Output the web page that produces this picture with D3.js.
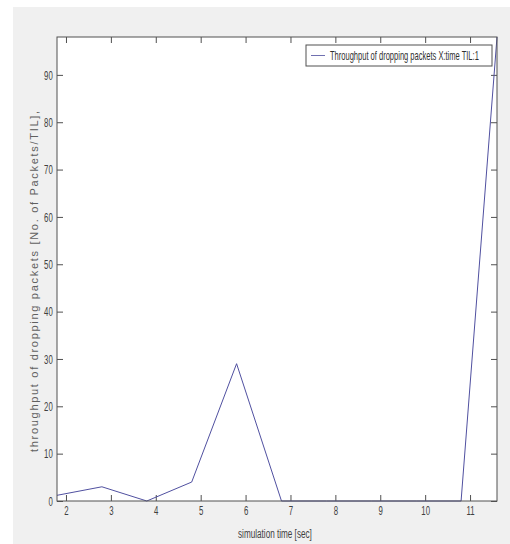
<!DOCTYPE html>
<html>
<head>
<meta charset="utf-8">
<script src="https://cdn.jsdelivr.net/npm/d3@7"></script>
<style>
  body { margin: 0; background: #ffffff; }
  svg text { font-family: "Liberation Sans", Arial, sans-serif; }
</style>
</head>
<body>
<script>
// simulation time [sec]
var times = [1.8, 2.8, 3.8, 4.8, 5.8, 6.8, 7.8, 8.8, 9.8, 10.8, 11.6];
// throughput of dropping packets
var drops = [1.2, 3, 0, 4, 29, 0, 0, 0, 0, 0, 98];
var xTicks = [2, 3, 4, 5, 6, 7, 8, 9, 10, 11];
var yTicks = [0, 10, 20, 30, 40, 50, 60, 70, 80, 90];
var legendLabel = "Throughput of dropping packets X:time TIL:1";

var width = 510, height = 544;
var margin = { top: 37, right: 13, bottom: 40, left: 57 };

var svg = d3.select("body").append("svg")
  .attr("width", width)
  .attr("height", height);

// grey figure background
svg.append("rect")
  .attr("x", 13).attr("y", 7)
  .attr("width", width - 13).attr("height", height - 7)
  .attr("fill", "#f0f0f0");

var w = width - margin.left - margin.right;
var h = height - margin.top - margin.bottom - 3;

var x = d3.scaleLinear().domain([1.8, 11.6]).range([0, w]);
var y = d3.scaleLinear().domain([0, 98]).range([h, 0]);

var g = svg.append("g")
  .attr("transform", "translate(" + margin.left + "," + margin.top + ")");

g.append("rect")
  .attr("width", w).attr("height", h)
  .attr("fill", "#ffffff");

var xAxis = d3.axisBottom(x).tickValues(xTicks).tickSize(-6).tickPadding(5);
var xAxisTop = d3.axisTop(x).tickValues(xTicks).tickSize(-6).tickFormat("");
var yAxis = d3.axisLeft(y).tickValues(yTicks).tickSize(-6).tickPadding(7);
var yAxisRight = d3.axisRight(y).tickValues(yTicks).tickSize(-6).tickFormat("");

g.append("g").attr("class", "x axis")
  .attr("transform", "translate(0," + h + ")")
  .call(xAxis);
g.append("g").attr("class", "x axis")
  .call(xAxisTop);
g.append("g").attr("class", "y axis")
  .call(yAxis);
g.append("g").attr("class", "y axis")
  .attr("transform", "translate(" + w + ",0)")
  .call(yAxisRight);

g.selectAll(".axis .domain").remove();
g.selectAll(".axis line").attr("stroke", "#505050");
// narrow MATLAB-like tick labels
g.selectAll(".axis text")
  .attr("fill", "#404040")
  .attr("transform", "scale(0.6,1)")
  .style("font-size", "13px");

// plot line
g.append("path")
  .datum(times.map(function(t, i) { return { t: t, v: drops[i] }; }))
  .attr("fill", "none")
  .attr("stroke", "#5050a0")
  .attr("stroke-width", 1)
  .attr("d", d3.line()
    .x(function(d) { return x(d.t); })
    .y(function(d) { return y(d.v); }));

// box
g.append("rect")
  .attr("width", w).attr("height", h)
  .attr("fill", "none")
  .attr("stroke", "#505050");

// legend
var leg = g.append("g").attr("transform", "translate(" + (w - 191) + ",8)");
leg.append("rect")
  .attr("width", 186).attr("height", 21)
  .attr("fill", "#ffffff")
  .attr("stroke", "#505050");
leg.append("line")
  .attr("x1", 5).attr("x2", 19)
  .attr("y1", 10.5).attr("y2", 10.5)
  .attr("stroke", "#7070b0");
leg.append("text")
  .attr("transform", "translate(24,15) scale(0.58,1)")
  .attr("fill", "#303030")
  .style("font-size", "13px")
  .text(legendLabel);

// axis labels
svg.append("text")
  .attr("transform", "translate(238,538) scale(0.68,1)")
  .attr("fill", "#404040")
  .style("font-size", "12px")
  .text("simulation time [sec]");

svg.append("text")
  .attr("transform", "translate(38,452) rotate(-90)")
  .attr("fill", "#606060")
  .style("font-size", "11px")
  .style("letter-spacing", "1.7px")
  .text("throughput of dropping packets [No. of Packets/TIL],");
</script>
</body>
</html>
